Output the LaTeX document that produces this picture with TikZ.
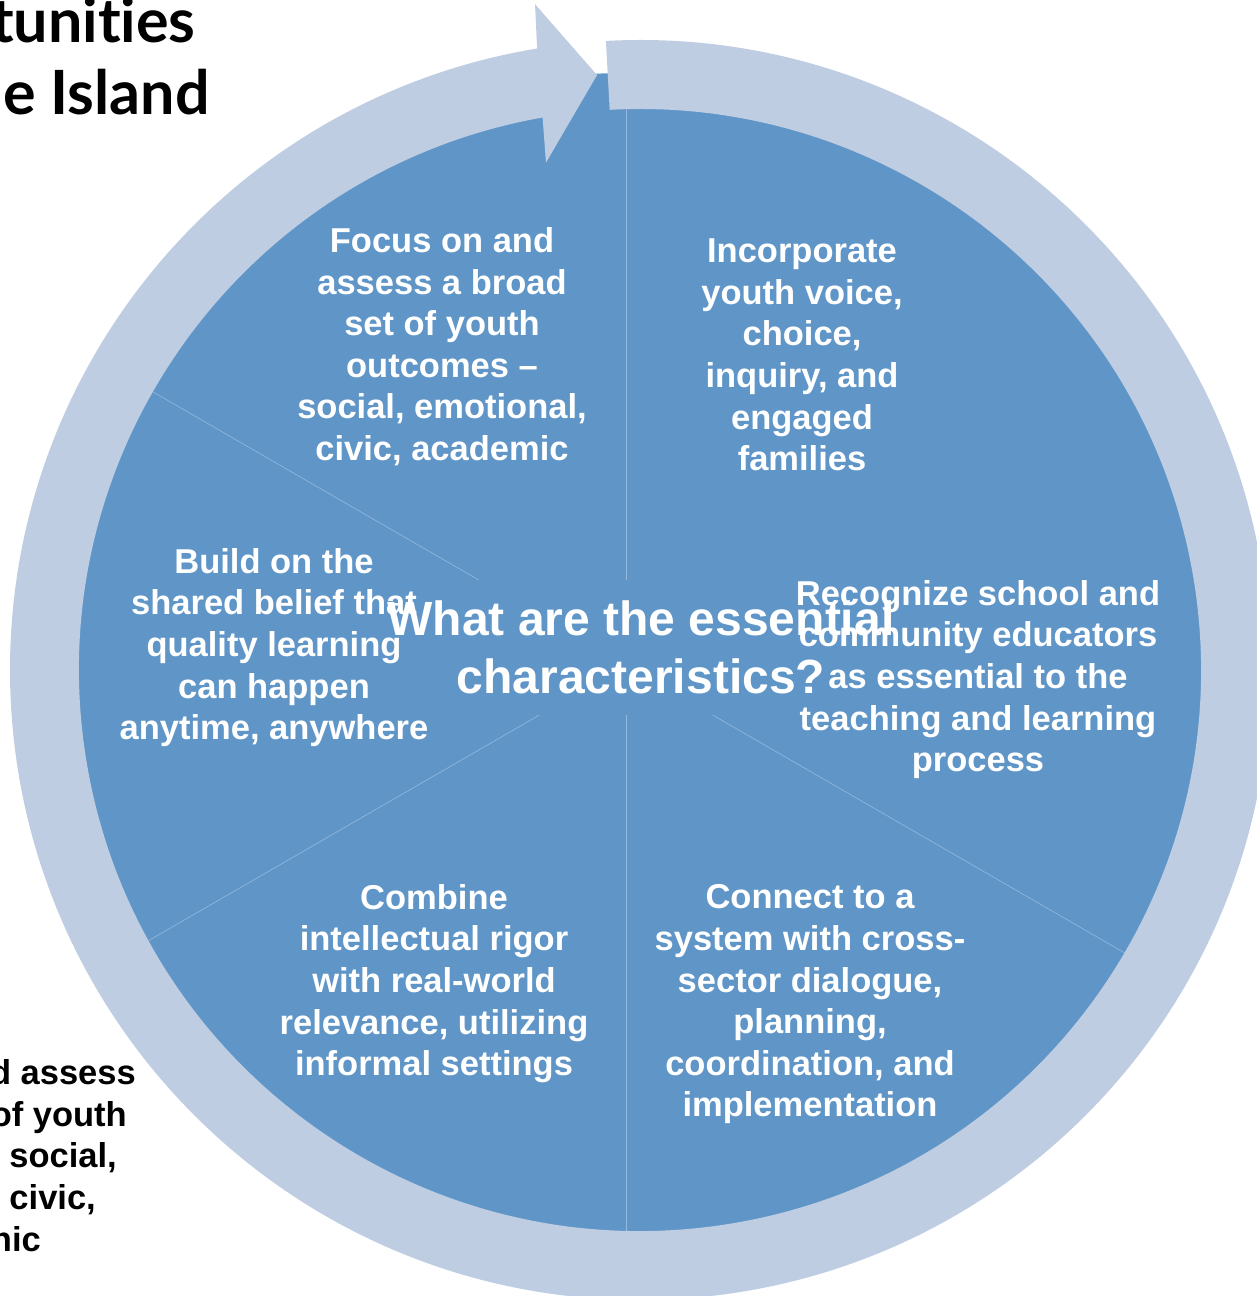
\documentclass[tikz,border=0pt]{standalone}
\usepackage{fontspec}
\setmainfont{Liberation Sans}
\newfontfamily\headfont{Lato}[Ligatures=NoCommon]

\definecolor{pieblue}{RGB}{96,150,199}
\definecolor{ringblue}{RGB}{191,205,227}
\definecolor{spokeblue}{RGB}{150,185,222}

\begin{document}
\begin{tikzpicture}[x=1pt,y=1pt,
  item/.style={text=white,font=\bfseries\fontsize{34.5}{41.6}\selectfont,align=center,inner sep=0pt},
  cutoff/.style={text=black,font=\bfseries\fontsize{34.5}{41.6}\selectfont,anchor=base east,inner sep=0pt},
  heading/.style={text=black,font=\headfont\bfseries\fontsize{61}{72}\selectfont,anchor=base east,inner sep=0pt},
  spoke/.style={draw=spokeblue,line width=0.6pt}]

\useasboundingbox (0,0) rectangle (1257,1296);
\clip (0,0) rectangle (1257,1296);

%Define ring parameters
\def\rout{630}    %Outer radius of the RING.
\def\rin{561}     %Inner radius of the RING.

% Define coordinates
\coordinate (ringc) at (640,626);
\coordinate (hub) at (626,631);

% PIE
\fill[pieblue] (hub) circle[radius=592];
\foreach \a in {90,150,210,270,330}
  \draw[spoke] (hub) -- ++(\a:580);

% Question in the middle
\node[fill=pieblue,text=white,font=\bfseries\fontsize{48}{57.6}\selectfont,
  align=center,minimum height=135pt,inner sep=0pt] (quest) at (641,648.5)
  {What are the essential\\characteristics?};

% RING with arrowhead
\begin{scope}[shift={(ringc)}]
\fill[ringblue] (93.1:\rout) arc[start angle=93.1,end angle=-260.6,radius=\rout]
  -- (-261.04:674) -- (-265.87:596.5) -- (-259.5:516)
  -- (-260:\rin) arc[start angle=-260,end angle=93.1,radius=\rin] -- cycle;
\end{scope}

% Characteristics
\node[item] (focus) at (442,949.3) {Focus on and\\assess a broad\\set of youth\\outcomes --\\social, emotional,\\civic, academic};
\node[item] (voice) at (802,941) {Incorporate\\youth voice,\\choice,\\inquiry, and\\engaged\\families};
\node[item] (educ) at (978,616.4) {Recognize school and\\community educators\\as essential to the\\teaching and learning\\process};
\node[item] (system) at (810,291.6) {Connect to a\\system with cross-\\sector dialogue,\\planning,\\coordination, and\\implementation};
\node[item] (rigor) at (434,312.4) {Combine\\intellectual rigor\\with real-world\\relevance, utilizing\\informal settings};
\node[item] (belief) at (274,648.4) {Build on the\\shared belief that\\quality learning\\can happen\\anytime, anywhere};

% Slide text cut off at the left
\node[heading] (title1) at (196,1253) {tunities};
\node[heading] (title2) at (210,1181) {e Island};

\node[cutoff] (cut1) at (136,211) {d assess};
\node[cutoff] (cut2) at (127,169) {of youth};
\node[cutoff] (cut3) at (117,128) {social,};
\node[cutoff] (cut4) at (96,86) {civic,};
\node[cutoff] (cut5) at (41,44) {nic};

\end{tikzpicture}
\end{document}
